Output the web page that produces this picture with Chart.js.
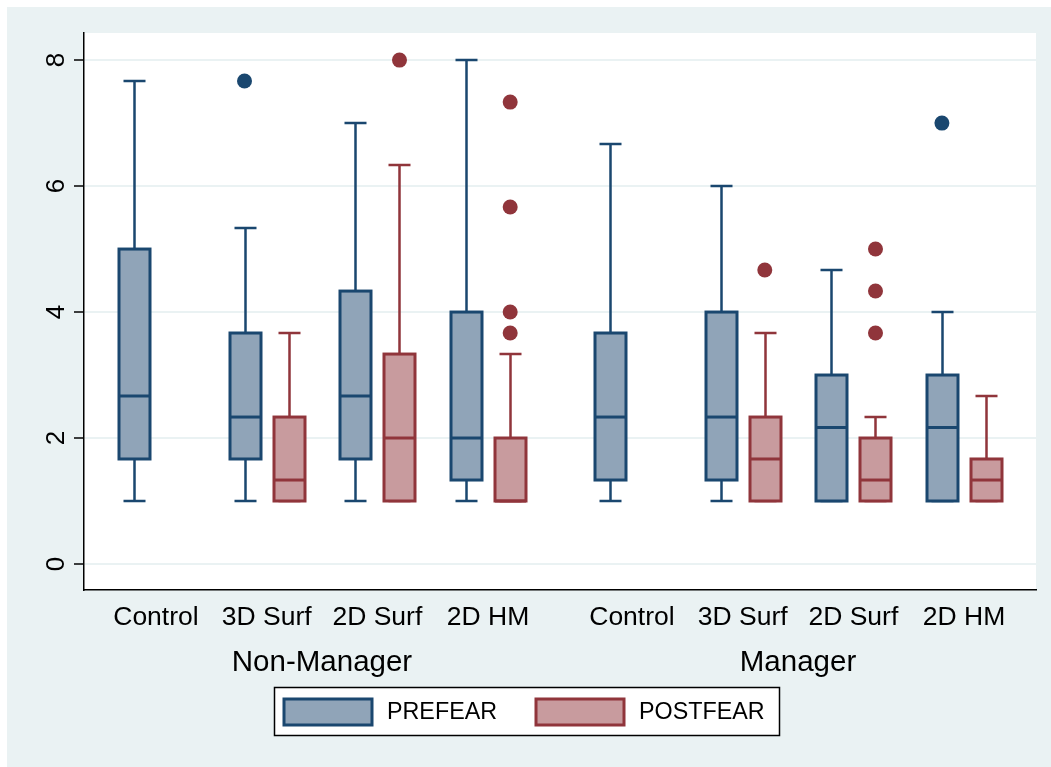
<!DOCTYPE html>
<html>
<head>
<meta charset="utf-8">
<script src="https://cdn.jsdelivr.net/npm/chart.js@4/dist/chart.umd.min.js"></script>
<style>
  html, body { margin: 0; padding: 0; background: #fff; }
</style>
</head>
<body>
<canvas id="canvas" width="1051" height="767"></canvas>
<script>
var categories = ['Control', '3D Surf', '2D Surf', '2D HM'];
var groups = ['Non-Manager', 'Manager'];
// category centres on the x scale: Non-Manager 0..3, Manager 4.3..7.3
var slotX = [0, 1, 2, 3, 4.3, 5.3, 6.3, 7.3];
var groupX = [1.5, 5.8];
var yTicks = [0, 2, 4, 6, 8];

// PREFEAR
var preLow  = [1, 1, 1, 1, 1, 1, 1, 1];
var preQ1   = [1.667, 1.667, 1.667, 1.333, 1.333, 1.333, 1, 1];
var preMed  = [2.667, 2.333, 2.667, 2, 2.333, 2.333, 2.167, 2.167];
var preQ3   = [5, 3.667, 4.333, 4, 3.667, 4, 3, 3];
var preHigh = [7.667, 5.333, 7, 8, 6.667, 6, 4.667, 4];
var preOut  = [[], [7.667], [], [], [], [], [], [7]];

// POSTFEAR (no Control group)
var postLow  = [null, 1, 1, 1, null, 1, 1, 1];
var postQ1   = [null, 1, 1, 1, null, 1, 1, 1];
var postMed  = [null, 1.333, 2, 1, null, 1.667, 1.333, 1.333];
var postQ3   = [null, 2.333, 3.333, 2, null, 2.333, 2, 1.667];
var postHigh = [null, 3.667, 6.333, 3.333, null, 3.667, 2.333, 2.667];
var postOut  = [[], [], [8], [7.333, 5.667, 4, 3.667], [], [4.667], [5, 4.333, 3.667], []];

var PRE_LINE = '#1a476f', PRE_FILL = '#90a4b8';
var POST_LINE = '#90353b', POST_FILL = '#c89b9e';
var BG = '#eaf2f3';

Chart.defaults.font.family = "'Liberation Sans', Arial, sans-serif";
Chart.defaults.color = '#000';

function outlierPoints(list, offset) {
    var pts = [];
    list.forEach(function (vals, i) {
        vals.forEach(function (v) { pts.push({ x: slotX[i] + offset, y: v }); });
    });
    return pts;
}

function drawSeries(chart, offset, low, q1, med, q3, high, line, fill) {
    var ctx = chart.ctx, xs = chart.scales.x, ys = chart.scales.y;
    var half = 15.5, cap = 11;
    for (var i = 0; i < slotX.length; i++) {
        if (med[i] == null) continue;
        var cx = Math.round(xs.getPixelForValue(slotX[i] + offset)) + 0.5;
        var yl = ys.getPixelForValue(low[i]), y1 = ys.getPixelForValue(q1[i]);
        var ym = ys.getPixelForValue(med[i]), y3 = ys.getPixelForValue(q3[i]);
        var yh = ys.getPixelForValue(high[i]);
        ctx.save();
        ctx.strokeStyle = line;
        ctx.lineWidth = 2.5;
        ctx.beginPath();
        ctx.moveTo(cx, y3); ctx.lineTo(cx, yh);
        ctx.moveTo(cx - cap, yh); ctx.lineTo(cx + cap, yh);
        ctx.moveTo(cx, y1); ctx.lineTo(cx, yl);
        ctx.moveTo(cx - cap, yl); ctx.lineTo(cx + cap, yl);
        ctx.stroke();
        ctx.fillStyle = fill;
        ctx.fillRect(cx - half, y3, half * 2, y1 - y3);
        ctx.lineWidth = 3;
        ctx.strokeRect(cx - half, y3, half * 2, y1 - y3);
        ctx.beginPath();
        ctx.moveTo(cx - half, ym); ctx.lineTo(cx + half, ym);
        ctx.stroke();
        ctx.restore();
    }
}

var backPlugin = {
    id: 'back',
    beforeDraw: function (chart) {
        var ctx = chart.ctx, a = chart.chartArea;
        ctx.save();
        ctx.fillStyle = '#fff';
        ctx.fillRect(0, 0, chart.width, chart.height);
        ctx.fillStyle = BG;
        ctx.fillRect(7, 7, chart.width - 7, chart.height - 7);
        ctx.fillStyle = '#fff';
        ctx.fillRect(a.left, a.top, a.right - a.left, a.bottom - a.top);
        ctx.restore();
    }
};

var boxPlugin = {
    id: 'boxes',
    beforeDatasetsDraw: function (chart) {
        drawSeries(chart, -0.2, preLow, preQ1, preMed, preQ3, preHigh, PRE_LINE, PRE_FILL);
        drawSeries(chart, 0.2, postLow, postQ1, postMed, postQ3, postHigh, POST_LINE, POST_FILL);
    }
};

var legendPlugin = {
    id: 'boxLegend',
    afterDraw: function (chart) {
        var ctx = chart.ctx;
        ctx.save();
        ctx.fillStyle = '#fff';
        ctx.fillRect(274, 687, 506, 49);
        ctx.strokeStyle = '#000';
        ctx.lineWidth = 1.5;
        ctx.strokeRect(274.5, 687.5, 505, 48);
        var items = [
            { x: 284, label: 'PREFEAR', line: PRE_LINE, fill: PRE_FILL },
            { x: 536, label: 'POSTFEAR', line: POST_LINE, fill: POST_FILL }
        ];
        ctx.font = "23.3px 'Liberation Sans', Arial, sans-serif";
        ctx.textBaseline = 'middle';
        items.forEach(function (it) {
            ctx.fillStyle = it.fill;
            ctx.fillRect(it.x, 699, 88, 26);
            ctx.strokeStyle = it.line;
            ctx.lineWidth = 3;
            ctx.strokeRect(it.x, 699, 88, 26);
            ctx.fillStyle = '#000';
            ctx.fillText(it.label, it.x + 103, 713);
        });
        ctx.restore();
    }
};

var ctx = document.getElementById('canvas').getContext('2d');
var myChart = new Chart(ctx, {
    type: 'scatter',
    data: {
        datasets: [{
            label: 'PREFEAR',
            data: outlierPoints(preOut, -0.2),
            pointRadius: 7.5,
            pointBackgroundColor: PRE_LINE,
            pointBorderWidth: 0
        }, {
            label: 'POSTFEAR',
            data: outlierPoints(postOut, 0.2),
            pointRadius: 7.5,
            pointBackgroundColor: POST_LINE,
            pointBorderWidth: 0
        }]
    },
    options: {
        responsive: false,
        animation: false,
        events: [],
        layout: { padding: { left: 7, top: 33, right: 15, bottom: 87 } },
        plugins: { legend: { display: false }, tooltip: { enabled: false } },
        scales: {
            x: {
                type: 'linear', position: 'bottom', min: -0.65, max: 7.95,
                afterBuildTicks: function (s) { s.ticks = slotX.map(function (v) { return { value: v }; }); },
                ticks: {
                    autoSkip: false, maxRotation: 0, padding: 12, font: { size: 26.5 },
                    callback: function (v, i) { return categories[i % categories.length]; }
                },
                grid: { display: false, drawTicks: false },
                border: { display: true, color: '#000', width: 1.5 },
                afterFit: function (s) { s.height = 50; }
            },
            x2: {
                type: 'linear', position: 'bottom', min: -0.65, max: 7.95,
                afterBuildTicks: function (s) { s.ticks = groupX.map(function (v) { return { value: v }; }); },
                ticks: {
                    autoSkip: false, maxRotation: 0, padding: 5, font: { size: 29.5 },
                    callback: function (v, i) { return groups[i]; }
                },
                grid: { display: false, drawTicks: false },
                border: { display: false },
                afterFit: function (s) { s.height = 40; }
            },
            y: {
                min: -0.413, max: 8.43,
                afterBuildTicks: function (s) { s.ticks = yTicks.map(function (v) { return { value: v }; }); },
                ticks: { minRotation: 90, maxRotation: 90, crossAlign: 'center', padding: 10, font: { size: 26 } },
                grid: { color: BG, lineWidth: 2, tickColor: '#000', tickLength: 10, tickWidth: 1.5 },
                border: { color: '#000', width: 1.5 },
                afterFit: function (s) { s.width = 77; }
            }
        }
    },
    plugins: [backPlugin, boxPlugin, legendPlugin]
});
</script>
</body>
</html>
